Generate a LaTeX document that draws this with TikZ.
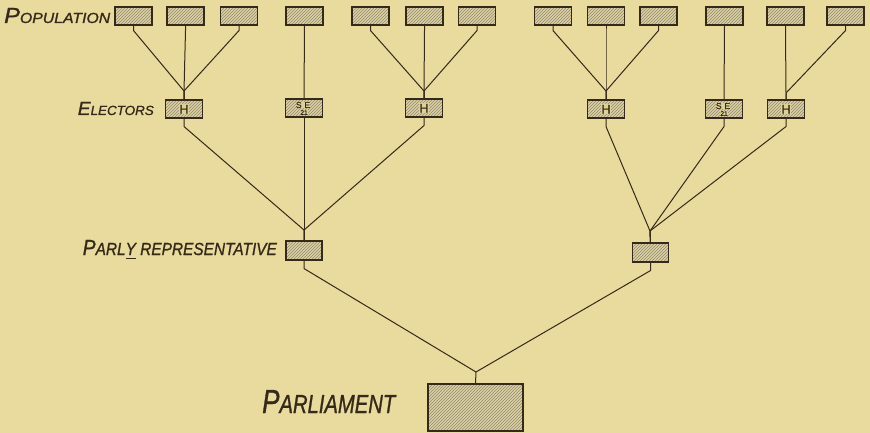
\documentclass[tikz,border=0pt]{standalone}
\usepackage{fontspec}
\usepackage{graphicx}
\usetikzlibrary{patterns}
\newfontfamily\lettering[FakeBold=1.2]{Liberation Sans}
\newfontfamily\boxletter[FakeBold=1.3]{Liberation Sans}
\definecolor{paper}{HTML}{E8DB9D}
\definecolor{ink}{HTML}{35291A}
\definecolor{boxfill}{HTML}{DDD198}
% big initial, smaller capitals, stretched to a given width and cap height
\newcommand{\capslabel}[5]{\resizebox{#4}{#5}{\lettering\itshape\fontsize{10}{10}\selectfont #1\fontsize{#3}{#3}\selectfont #2}}
\pgfdeclarelayer{paperlayer}
\pgfdeclarelayer{wires}
\pgfsetlayers{paperlayer,wires,main}
\tikzset{
  every picture/.style={x=1pt,y=-1pt},
  hatchbox/.style={draw=ink, line width=1.1pt, rectangle, inner sep=0pt,
    preaction={fill=boxfill}, pattern=north east lines, pattern color=ink!55},
  popbox/.style={hatchbox, minimum width=37pt, minimum height=18pt},
  elbox/.style={hatchbox, minimum width=37pt, minimum height=18pt},
  repbox/.style={hatchbox, minimum width=36pt, minimum height=19pt},
  parlbox/.style={hatchbox, minimum width=95pt, minimum height=47pt},
  wire/.style={draw=ink, line width=1pt, line join=round},
  caption/.style={inner sep=0pt, text=ink},
  hlabel/.style={fill=boxfill, inner sep=0.8pt, text=ink, font=\boxletter\fontsize{12.5}{12.5}\selectfont},
  selabel/.style={fill=boxfill, inner sep=0.3pt, text=ink, font=\boxletter\fontsize{8.5}{8.5}\selectfont},
  numlabel/.style={fill=boxfill, inner sep=0.2pt, text=ink, font=\boxletter\fontsize{6.5}{6.5}\selectfont},
}
\begin{document}
\begin{tikzpicture}
\begin{pgfonlayer}{paperlayer}
\fill[paper] (0,0) rectangle (870,433);
\end{pgfonlayer}
\useasboundingbox (0,0) rectangle (870,433);

% population boxes
\foreach \n/\x in {1/133.5,2/185.5,3/239,4/304.5,5/370.5,6/424.5,7/477,
                   8/553,9/606,10/658.5,11/724.5,12/785.5,13/845.5}
  \node[popbox] (p\n) at (\x,16) {};

% electors
\node[elbox] (e1) at (184,109) {};
\node[elbox] (e2) at (304,108) {};
\node[elbox] (e3) at (424,108) {};
\node[elbox] (e4) at (606,109) {};
\node[elbox] (e5) at (724,109) {};
\node[elbox] (e6) at (786,109) {};
\foreach \n in {1,3,4,6}
  \node[hlabel] at ([yshift=-0.3pt]e\n.center) {H};
\foreach \n in {2,5}{
  \node[selabel] at ([xshift=-1pt,yshift=3pt]e\n.center) {S\,\,E};
  \node[numlabel] at ([yshift=-4.5pt]e\n.center) {21};
}

% parliamentary representatives and parliament
\node[repbox] (r1) at (304,250.5) {};
\node[repbox] (r2) at (650.5,252.5) {};
\node[parlbox] (pa) at (475.5,407.5) {};

% junction points
\coordinate (j1) at (184,91);
\coordinate (j2) at (424,91);
\coordinate (j3) at (606,91);
\coordinate (j6) at (786,93);
\coordinate (k1) at (304,230);
\coordinate (k2) at (650,231);
\coordinate (m) at (476,372);

\begin{pgfonlayer}{wires}
% population to electors
\foreach \p/\j/\e in {1/j1/e1,2/j1/e1,3/j1/e1,5/j2/e3,6/j2/e3,7/j2/e3,
                      8/j3/e4,9/j3/e4,10/j3/e4,12/j6/e6,13/j6/e6}
  \draw[wire] (p\p.south) -- ++(0,5) -- (\j) -- (\e.north);
\draw[wire] (p4.south) -- (e2.north);
\draw[wire] (p11.south) -- (e5.north);

% electors to representatives
\foreach \e/\k/\r in {1/k1/r1,3/k1/r1,4/k2/r2,5/k2/r2,6/k2/r2}
  \draw[wire] (e\e.south) -- ++(0,8) -- (\k) -- (\r.north);
\draw[wire] (e2.south) -- (r1.north);

% representatives to parliament
\draw[wire] (r1.south) -- ++(0,8) -- (m) -- (pa.north);
\draw[wire] (r2.south) -- ++(0,8) -- (m);
\end{pgfonlayer}

% row captions
\node[caption, anchor=base west] (cpop) at (4,23) {\capslabel{P}{OPULATION}{6.7}{106pt}{15pt}};
\node[caption, anchor=base east] (cel) at (154,115) {\capslabel{E}{LECTORS}{7}{76pt}{13pt}};
\node[caption, anchor=base east] (crep) at (277,255) {\capslabel{P}{ARL\underline{Y} REPRESENTATIVE}{8}{194pt}{15pt}};
\node[caption, anchor=base west] (cparl) at (262,413) {\capslabel{P}{ARLIAMENT}{7.8}{133pt}{23pt}};
\end{tikzpicture}
\end{document}
